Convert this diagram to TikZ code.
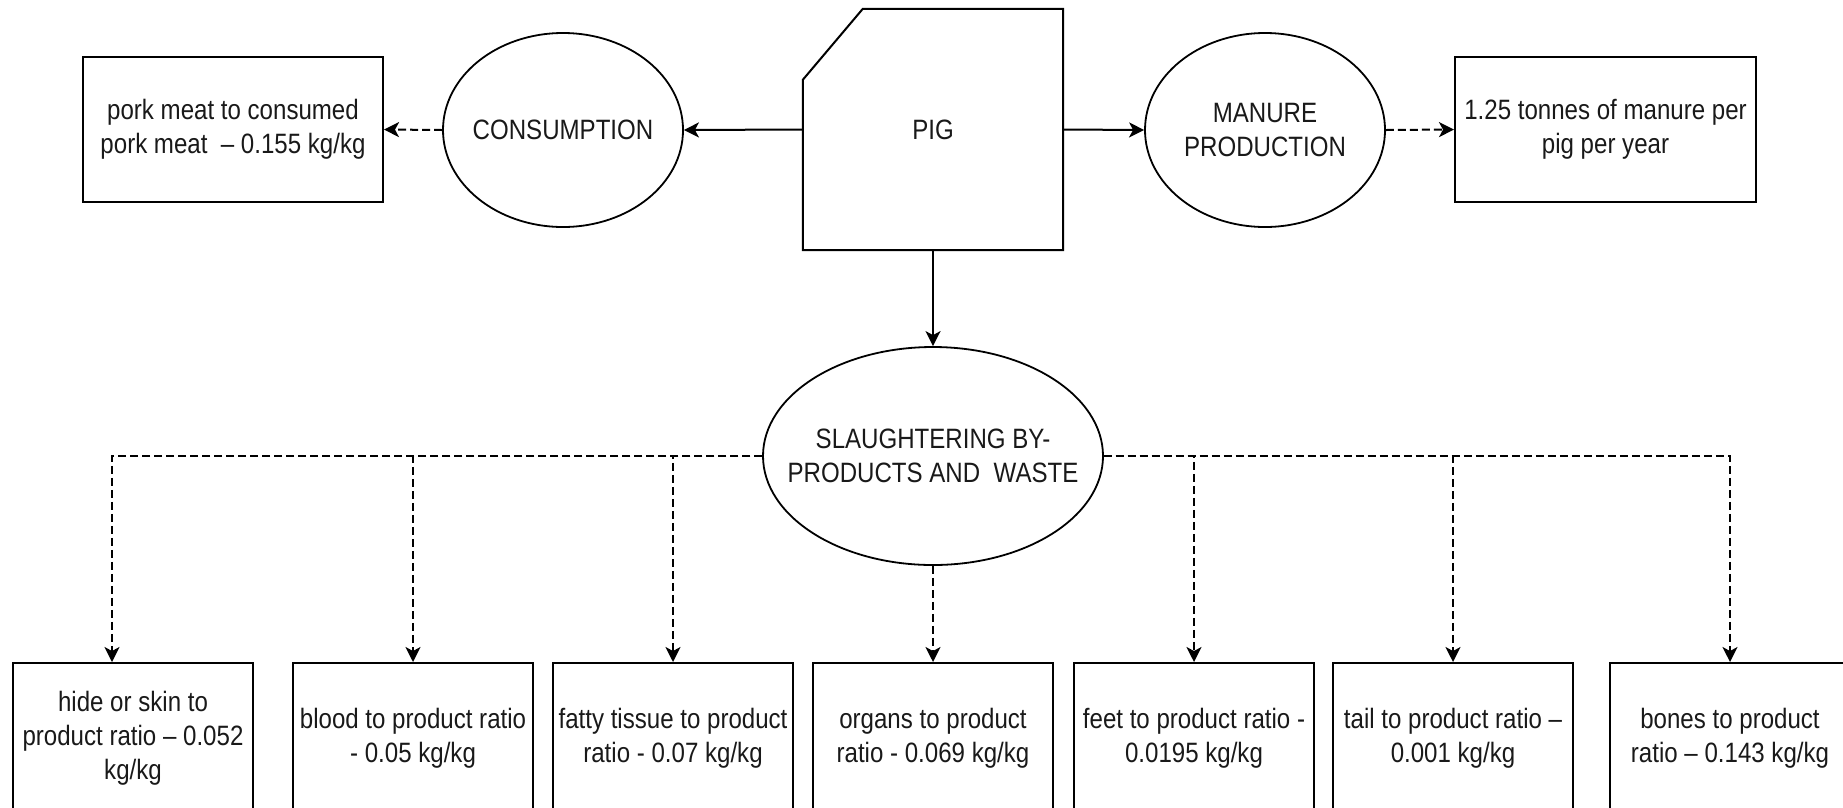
\documentclass[tikz,border=0pt]{standalone}
\usepackage{fontspec}
\setmainfont{Liberation Sans}[FakeStretch=0.86]
\usetikzlibrary{shapes.geometric,arrows.meta}
\begin{document}
\begin{tikzpicture}[x=1pt,y=-1pt,
  every node/.style={font=\fontsize{28}{34}\selectfont, text=black!90, align=center},
  box/.style={draw=black, line width=2pt, inner sep=0pt},
  bbox/.style={box, minimum width=240pt, minimum height=150pt},
  oval/.style={draw=black, ellipse, line width=1.8pt, inner sep=0pt},
  conn/.style={line width=2pt, -{Stealth[length=15pt,width=15pt,inset=4pt]}},
  dconn/.style={conn, dash pattern=on 8pt off 4pt}]
\useasboundingbox (0,0) rectangle (1843,807);
\clip (0,0) rectangle (1843,807);
% top row
\node[box, minimum width=300pt, minimum height=145pt] (pork) at (233,129.5) {pork meat to consumed\\pork meat ~– 0.155 kg/kg};
\node[oval, minimum width=240pt, minimum height=194pt, label={center:CONSUMPTION}] (cons) at (563,130) {};
\node[minimum width=260pt, minimum height=241pt, inner sep=0pt] (pig) at (933,129.5) {PIG};
\draw[line width=2pt] ([xshift=60pt]pig.north west) -- (pig.north east) -- (pig.south east) -- (pig.south west) -- ([yshift=-71pt]pig.north west) -- cycle;
\node[oval, minimum width=240pt, minimum height=194pt, label={center:{MANURE\\PRODUCTION}}] (man) at (1265,130) {};
\node[box, minimum width=301pt, minimum height=145pt] (mbox) at (1605.5,129.5) {1.25 tonnes of manure per\\pig per year};
% middle
\node[oval, minimum width=340pt, minimum height=218pt, label={center:{SLAUGHTERING BY-\\PRODUCTS AND ~WASTE}}] (sl) at (933,456) {};
% bottom row
\node[bbox] (b1) at (133,738) {hide or skin to\\product ratio – 0.052\\kg/kg};
\node[bbox] (b2) at (413,738) {blood to product ratio\\- 0.05 kg/kg};
\node[bbox] (b3) at (673,738) {fatty tissue to product\\ratio - 0.07 kg/kg};
\node[bbox] (b4) at (933,738) {organs to product\\ratio - 0.069 kg/kg};
\node[bbox] (b5) at (1194,738) {feet to product ratio -\\0.0195 kg/kg};
\node[bbox] (b6) at (1453,738) {tail to product ratio –\\0.001 kg/kg};
\node[bbox] (b7) at (1730,738) {bones to product\\ratio – 0.143 kg/kg};
% connectors
\draw[conn] (pig.west) -- (cons.east);
\draw[conn] (pig.east) -- (man.west);
\draw[conn] (pig.south) -- (sl.north);
\draw[dconn] (cons.west) -- (pork.east);
\draw[dconn] (man.east) -- (mbox.west);
\draw[dconn] (sl.west) -| ([xshift=-21pt]b1.north);
\draw[dconn] (sl.west) -| (b2.north);
\draw[dconn] (sl.west) -| (b3.north);
\draw[dconn] (sl.south) -- (b4.north);
\draw[dconn] (sl.east) -| (b5.north);
\draw[dconn] (sl.east) -| (b6.north);
\draw[dconn] (sl.east) -| (b7.north);
\end{tikzpicture}
\end{document}
